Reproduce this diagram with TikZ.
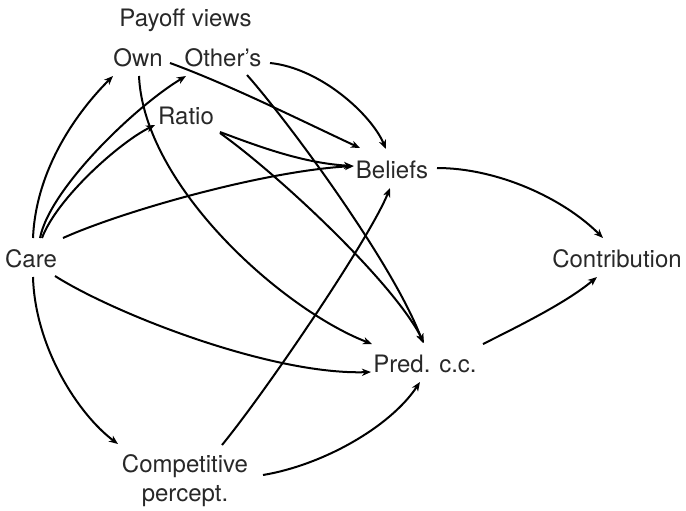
\documentclass[tikz,border=0pt]{standalone}
\usepackage{fontspec}
\setmainfont{TeX Gyre Heros}
\usetikzlibrary{arrows.meta,calc}
\definecolor{txt}{RGB}{40,40,40}
\begin{document}
\begin{tikzpicture}[x=0.5pt,y=-0.5pt,
  lbl/.style={anchor=base,inner sep=0pt,text=txt,font=\fontsize{12}{13.5}\selectfont},
  arr/.style={line width=1pt,-{Stealth[length=4.5pt,width=3.6pt,inset=1.3pt]}}]
\useasboundingbox (0,0) rectangle (686,510);
\node[lbl] (payoff) at (185.5,26) {Payoff views};
\node[lbl] (own) at (138,66) {Own};
\node[lbl] (others) at (223,66) {Other\symbol{39}s};
\node[lbl] (ratio) at (186,124) {Ratio};
\node[lbl] (beliefs) at (392,178) {Beliefs};
\node[lbl] (care) at (31,267) {Care};
\node[lbl] (contrib) at (617,267) {Contribution};
\node[lbl] (pred) at (425,372) {Pred. c.c.};
\node[lbl,anchor=north,align=center] (comp) at (185,454) {Competitive\\[1pt]percept.};
% Care
\draw[arr] ($(care.base)+(2,-29)$) .. controls +(3,-70) and +(-35,35) .. ($(own.base)+(-25,10)$);
\draw[arr] ($(care.base)+(9,-29)$) .. controls +(10,-50) and +(-50,30) .. ($(others.base)+(-37,10)$);
\draw[arr] ($(care.base)+(11,-29)$) .. controls +(15,-40) and +(-35,17) .. ($(ratio.base)+(-31,1)$);
\draw[arr] ($(care.base)+(32,-29)$) .. controls +(60,-27) and +(-90,5) .. ($(beliefs.base)+(-38,-12)$);
\draw[arr] ($(care.base)+(24,9)$) .. controls +(60,38) and +(-100,3) .. ($(pred.base)+(-54,0)$);
\draw[arr] ($(care.base)+(2,10)$) .. controls +(2,70) and +(-40,-30) .. ($(comp.north)+(-67,-10)$);
% Own
\draw[arr] ($(own.base)+(1,10)$) .. controls +(5,110) and +(-90,-35) .. ($(pred.base)+(-53,-28)$);
\draw[arr] ($(own.base)+(32,-3)$) .. controls +(60,22) and +(-60,-28) .. ($(beliefs.base)+(-32,-30)$);
% Other's
\draw[arr] ($(others.base)+(47,-3)$) .. controls +(50,5) and +(-15,-35) .. ($(beliefs.base)+(-6,-29)$);
\draw[arr] ($(others.base)+(24,9)$) .. controls +(40,45) and +(-30,-80) .. ($(pred.base)+(-2,-29)$);
% Ratio
\draw[arr] ($(ratio.base)+(34,8)$) .. controls +(40,15) and +(-50,-3) .. ($(beliefs.base)+(-39,-12)$);
\draw[arr] ($(ratio.base)+(34,9)$) .. controls +(60,43) and +(-30,-60) .. ($(pred.base)+(-1,-29)$);
% Competitive
\draw[arr] ($(comp.north)+(37,-9)$) .. controls +(45,-55) and +(-20,50) .. ($(beliefs.base)+(-2,10)$);
\draw[arr] ($(comp.north)+(78,21)$) .. controls +(60,-10) and +(-30,45) .. ($(pred.base)+(-5,10)$);
% to Contribution
\draw[arr] ($(beliefs.base)+(45,-10)$) .. controls +(60,0) and +(-40,-40) .. ($(contrib.base)+(-14,-29)$);
\draw[arr] ($(pred.base)+(58,-28)$) .. controls +(40,-20) and +(-30,25) .. ($(contrib.base)+(-20,10)$);
\end{tikzpicture}
\end{document}
